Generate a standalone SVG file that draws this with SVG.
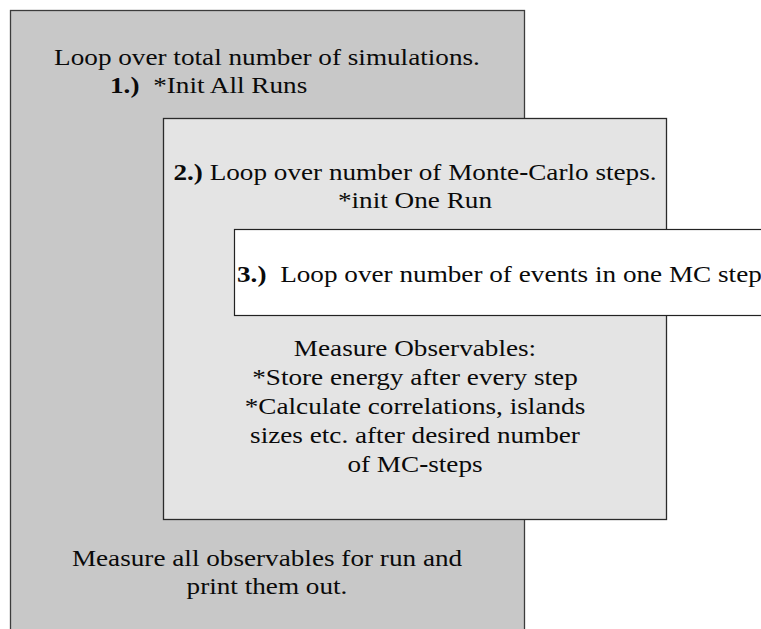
<svg xmlns="http://www.w3.org/2000/svg" width="761" height="629" viewBox="0 0 761 629">
  <style>
    .box1 { fill: #c8c8c8; stroke: #3c3c3c; stroke-width: 1.3; }
    .box2 { fill: #e4e4e4; stroke: #2a2a2a; stroke-width: 1.3; }
    .box3 { fill: #ffffff; stroke: #222222; stroke-width: 1.2; }
    text { font-family: "Liberation Serif", "Times New Roman", serif; font-size: 23.5px; fill: #0a0a0a; }
    .mid { text-anchor: middle; }
    .b { font-weight: bold; }
  </style>
  <rect width="761" height="629" fill="#ffffff"/>

  <!-- outer loop: all simulations -->
  <g id="loop-simulations">
    <rect class="box1" x="10.5" y="10.5" width="514" height="640"/>
    <text class="mid" transform="translate(267,65) scale(1.157,1)">Loop over total number of simulations.</text>
    <text transform="translate(110,93) scale(1.157,1)"><tspan class="b">1.)</tspan><tspan dx="6"> *Init All Runs</tspan></text>
    <text class="mid" transform="translate(267,566) scale(1.157,1)">Measure all observables for run and</text>
    <text class="mid" transform="translate(267,594) scale(1.157,1)">print them out.</text>
  </g>

  <!-- middle loop: Monte-Carlo steps -->
  <g id="loop-mc-steps">
    <rect class="box2" x="163.5" y="118.5" width="503" height="401"/>
    <text class="mid" transform="translate(415,180) scale(1.157,1)"><tspan class="b">2.)</tspan> Loop over number of Monte<tspan class="b">-</tspan>Carlo steps.</text>
    <text class="mid" transform="translate(415,208) scale(1.157,1)">*init One Run</text>
    <text class="mid" transform="translate(415,356) scale(1.157,1)">Measure Observables:</text>
    <text class="mid" transform="translate(415,385) scale(1.157,1)">*Store energy after every step</text>
    <text class="mid" transform="translate(415,414) scale(1.157,1)">*Calculate correlations, islands</text>
    <text class="mid" transform="translate(415,443) scale(1.157,1)">sizes etc. after desired number</text>
    <text class="mid" transform="translate(415,472) scale(1.157,1)">of MC<tspan class="b">-</tspan>steps</text>
  </g>

  <!-- inner loop: events within one MC step -->
  <g id="loop-events">
    <rect class="box3" x="234.5" y="229.5" width="540" height="86"/>
    <text transform="translate(237,282) scale(1.157,1)"><tspan class="b">3.)</tspan><tspan dx="6"> Loop over number of events in one MC step</tspan></text>
  </g>

  <g id="connectors"/>
</svg>
